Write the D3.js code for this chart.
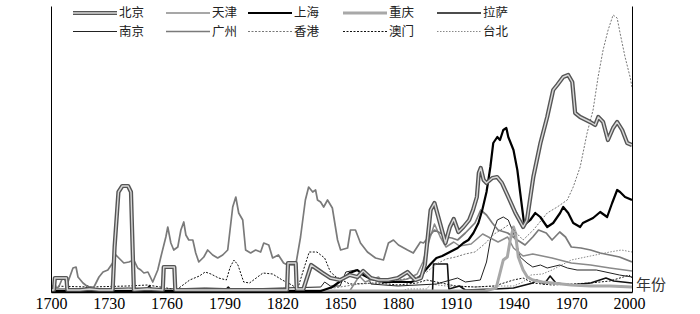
<!DOCTYPE html>
<html><head><meta charset="utf-8">
<script src="https://cdn.jsdelivr.net/npm/d3@7"></script>
<style>body{margin:0;background:#fff} svg{display:block}</style>
</head><body>
<svg id="c" width="700" height="314"></svg>
<script>
// ---- data: [year, index value] ----
const xTicks = [1700, 1730, 1760, 1790, 1820, 1850, 1880, 1910, 1940, 1970, 2000];
const cityNames = ["北京","天津","上海","重庆","拉萨","南京","广州","香港","澳门","台北"];
const axisLabel = "年份";

const beijing = [[1700,2],[1701.5,2],[1702,14],[1708,14],[1708.5,2],[1715,2],[1720,3],[1725,2],[1732,2],[1733,45],[1735,100],[1737,106],[1740,106],[1741.5,100],[1743,2],[1750,3],[1758,2],[1758.5,25],[1764,25],[1764.5,2],[1780,2],[1800,2],[1822.5,2],[1823,29],[1827,29],[1827.5,3],[1831,3],[1833,15],[1835,27],[1841,19],[1845,14],[1850,12],[1855,17],[1859,15],[1862,21],[1866,14],[1870,12],[1875,12],[1880,14],[1885,20],[1889,12],[1892,14],[1894,27],[1897,82],[1899,89],[1901,75],[1904.7,49],[1907,65],[1909,73],[1911.4,60],[1914,65],[1917,72],[1919,82],[1921,95],[1922,119],[1923,124],[1924.5,112],[1926,109],[1929,114],[1931.5,115],[1934,109],[1938,92],[1941,79],[1945,65],[1947,72],[1950.3,115],[1954,149],[1957.5,175],[1960.6,202],[1962.7,207],[1965.8,215],[1968.4,217],[1970.5,210],[1972,179],[1974.6,175],[1979.8,170],[1982.4,167],[1984,175],[1986.5,170],[1989,152],[1991.7,164],[1993.8,170],[1996.4,162],[1999,149],[2001.5,147]];
const tianjin = [[1700,0],[1855,1],[1858,10],[1860,16],[1863,10],[1870,15],[1873,9],[1880,11],[1885,13],[1890,18],[1893,30],[1896,50],[1899,68],[1902,55],[1905,45],[1909,50],[1912,46],[1918,48],[1924,58],[1928,54],[1932,50],[1937,55],[1940,44],[1945,36],[1950,38],[1960,34],[1970,29],[1980,27],[1990,24],[2001.5,21]];
const shanghai = [[1700,1],[1840,1],[1843,3],[1846,5],[1851,12],[1855,19],[1859,22],[1862,17],[1865,14],[1868,12],[1873,10],[1880,10],[1887,10],[1890,12],[1893,19],[1897,28],[1900,34],[1903,36],[1907,40],[1911,44],[1914,49],[1916.6,52],[1919.2,59],[1921.8,69],[1923.8,82],[1926,100],[1928,125],[1929.5,149],[1931.6,155],[1933,152],[1934.7,162],[1936.3,164],[1937.3,155],[1940,142],[1942,122],[1943.5,99],[1945.6,67],[1948.7,72],[1951.3,79],[1953.9,75],[1957.5,65],[1960.6,69],[1964.2,79],[1965.8,85],[1968.4,79],[1971,69],[1974.6,65],[1976,69],[1981.3,74],[1985,80],[1988.6,75],[1991.2,89],[1993.8,102],[1995.3,100],[1997.9,95],[2001.5,92]];
const chongqing = [[1700,1],[1925,1],[1929,3],[1931,4],[1933,19],[1934.7,32],[1936.8,35],[1938.3,52],[1940,65],[1941,59],[1942.5,35],[1945,22],[1947.2,15],[1950,12],[1955,10],[1960,9],[1970,7],[1980,6],[1990,6],[2001.5,5]];
const lhasa = [[1700,1],[1717,1],[1719,6],[1722,1],[1749,1],[1751,6],[1753,1],[1790,1],[1792,5],[1794,1],[1898,1],[1898.5,28],[1905.7,28],[1906.5,3],[1912,6],[1915,2],[1930,3],[1940,4],[1950,9],[1952,12],[1956,8],[1959,16],[1962,9],[1970,7],[1980,9],[1988,14],[1992,11],[2001.5,9]];
const nanjing = [[1700,3],[1720,3],[1740,4],[1760,3],[1780,4],[1800,3],[1820,4],[1840,5],[1842,10],[1845,6],[1850,6],[1853,20],[1858,22],[1864,18],[1866,8],[1880,6],[1900,8],[1911,14],[1915,10],[1922.8,12],[1926,30],[1928,52],[1931.6,72],[1934.7,75],[1937.3,72],[1940,59],[1943.5,35],[1947,29],[1950,25],[1954,27],[1957.5,24],[1964,27],[1968,24],[1973,22],[1983,22],[1995,17],[2001.5,15]];
const guangzhou = [[1700,3],[1704,5],[1706,14],[1708.8,10],[1711.4,24],[1713,25],[1714,15],[1716.6,9],[1719.2,5],[1722.3,5],[1724.9,15],[1727,20],[1729.5,22],[1732,29],[1733.7,37],[1735.2,34],[1737.8,29],[1740.4,30],[1743,32],[1745,24],[1746.6,22],[1748.2,19],[1750.3,20],[1752.8,10],[1755.4,22],[1757,35],[1759.6,55],[1760.6,65],[1762.2,49],[1763.7,42],[1765.8,45],[1767.4,62],[1768.9,70],[1770,57],[1771.5,52],[1773.6,52],[1775.1,39],[1776.7,30],[1779.3,35],[1781.3,42],[1783.9,37],[1786.5,34],[1789.1,37],[1791.7,42],[1794.3,85],[1795.9,95],[1797.4,79],[1799.5,72],[1801,42],[1803.6,39],[1806.2,42],[1808.8,40],[1810.4,49],[1813,47],[1815,34],[1818,37],[1820.7,29],[1822.8,27],[1827,27],[1829.5,55],[1832,92],[1833.7,105],[1835.8,100],[1837.3,102],[1838.3,92],[1839.9,90],[1841.5,85],[1843.5,92],[1846,84],[1848.7,52],[1850.3,42],[1853.9,44],[1855.4,62],[1858,62],[1860.6,49],[1864.2,40],[1868.4,34],[1872.5,32],[1875.1,49],[1877.7,52],[1880.3,47],[1885,42],[1888,39],[1891.7,50],[1893.3,49],[1896,55],[1899,62],[1902,59],[1905,55],[1908,54],[1911,52],[1915,59],[1920,69],[1923,82],[1926,77],[1929,69],[1932,62],[1937,59],[1942,52],[1946,47],[1950,55],[1953,62],[1957,59],[1960,52],[1964,60],[1967,55],[1970,45],[1975,44],[1980,42],[1985,39],[1990,37],[1995,35],[2001.5,30]];
const hongkong = [[1700,0],[1840,0],[1843,3],[1850,5],[1860,8],[1870,9],[1880,12],[1890,15],[1895,20],[1900,28],[1905,33],[1910,35],[1915,38],[1920,40],[1925,48],[1930,58],[1935,64],[1938,68],[1941,60],[1945,52],[1950.3,62],[1957.5,79],[1962.7,85],[1967.9,92],[1971,105],[1974.6,125],[1978.2,159],[1981.3,182],[1983.9,215],[1986.5,242],[1989.1,262],[1991.7,277],[1993.8,274],[1995.3,259],[1997.9,235],[2000.5,215],[2001.5,205]];
const macau = [[1700,6],[1720,5],[1740,6],[1750,7],[1760,4],[1765,2],[1772,12],[1777,16],[1780,20],[1783,18],[1787,14],[1791,12],[1793,25],[1795,32],[1797,27],[1800,10],[1803,9],[1810,19],[1815,18],[1820,12],[1825,7],[1828,3],[1831,22],[1834,40],[1838,40],[1842,34],[1845,20],[1848,15],[1855,8],[1870,9],[1880,7],[1890,9],[1895,12],[1900,10],[1910,6],[1920,5],[1930,6],[1940,12],[1945,14],[1950,9],[1960,7],[1970,8],[1980,9],[1990,11],[1997,15],[2000,17],[2001.5,14]];
const taipei = [[1700,0],[1880,0],[1885,3],[1895,3],[1897,8],[1905,6],[1920,5],[1930,6],[1940,6],[1945,10],[1949,17],[1955,18],[1960,22],[1965,27],[1970,32],[1980,36],[1990,40],[1996,42],[2001.5,40]];

// ---- styles (separate from data) ----
const styles = {
  "北京": {data: beijing, color: "#555", width: 4.2, inner: "#d8d8d8", innerWidth: 1.4},
  "天津": {data: tianjin, color: "#8a8a8a", width: 1.5},
  "上海": {data: shanghai, color: "#000", width: 2.2},
  "重庆": {data: chongqing, color: "#a8a8a8", width: 3},
  "拉萨": {data: lhasa, color: "#111", width: 1.6},
  "南京": {data: nanjing, color: "#222", width: 1},
  "广州": {data: guangzhou, color: "#7a7a7a", width: 1.7},
  "香港": {data: hongkong, color: "#777", width: 1, dash: "2,1.5"},
  "澳门": {data: macau, color: "#111", width: 1, dash: "2,1.5"},
  "台北": {data: taipei, color: "#888", width: 1, dash: "1.5,1.5"}
};
const drawOrder = ["台北","澳门","南京","拉萨","天津","广州","重庆","香港","上海","北京"];

const svg = d3.select('#c');
const x = d3.scaleLinear().domain([1700, 2001.5]).range([51, 632]);
const y = d3.scaleLinear().domain([0, 286]).range([292, 6]);

svg.append('defs').append('clipPath').attr('id','pc')
  .append('rect').attr('x', 51).attr('y', 4).attr('width', 581).attr('height', 289);

const line = d3.line().x(d => x(d[0])).y(d => y(d[1]));
const g = svg.append('g').attr('clip-path','url(#pc)');
drawOrder.forEach(n => {
  const s = styles[n];
  g.append('path').attr('d', line(s.data)).attr('fill','none')
    .attr('stroke', s.color).attr('stroke-width', s.width)
    .attr('stroke-linejoin','round')
    .attr('stroke-dasharray', s.dash || null);
  if (s.inner) {
    g.append('path').attr('d', line(s.data)).attr('fill','none')
      .attr('stroke', s.inner).attr('stroke-width', s.innerWidth).attr('stroke-linejoin','round');
  }
});

// axes
const xa = svg.append('g').attr('transform','translate(0,292)')
  .call(d3.axisBottom(x).tickValues(xTicks).tickSize(0).tickPadding(6).tickFormat(d3.format('d')));
xa.select('.domain').attr('stroke','#000').attr('stroke-width',1.6);
xa.selectAll('text').attr('font-family','"Liberation Serif", serif').attr('font-size',16).attr('fill','#000');
const la = svg.append('g').attr('transform','translate(51,0)').call(d3.axisLeft(y).tickValues([]).tickSize(0));
la.select('.domain').attr('stroke','#000').attr('stroke-width',1);
const ra = svg.append('g').attr('transform','translate(632,0)').call(d3.axisRight(y).tickValues([]).tickSize(0));
ra.select('.domain').attr('stroke','#000').attr('stroke-width',1);

svg.append('text').attr('x', 636).attr('y', 285).attr('dy','0.35em')
  .attr('font-family','"Noto Sans CJK SC", sans-serif').attr('font-size',15).attr('fill','#333')
  .text(axisLabel);

// legend
const colX = [73, 166, 248, 343, 437];
const rowY = [13, 31.5];
cityNames.forEach((n, i) => {
  const s = styles[n];
  const cx = colX[i % 5], cy = rowY[Math.floor(i / 5)];
  const lg = svg.append('g');
  lg.append('line').attr('x1', cx).attr('x2', cx + 44).attr('y1', cy).attr('y2', cy)
    .attr('stroke', s.color).attr('stroke-width', s.width).attr('stroke-dasharray', s.dash || null);
  if (s.inner) lg.append('line').attr('x1', cx).attr('x2', cx + 44).attr('y1', cy).attr('y2', cy)
    .attr('stroke', s.inner).attr('stroke-width', s.innerWidth);
  lg.append('text').attr('x', cx + 46).attr('y', cy).attr('dy','0.35em')
    .attr('font-family','"Noto Sans CJK SC", sans-serif').attr('font-size',12.5).attr('fill','#222')
    .text(n);
});
</script>
</body></html>
